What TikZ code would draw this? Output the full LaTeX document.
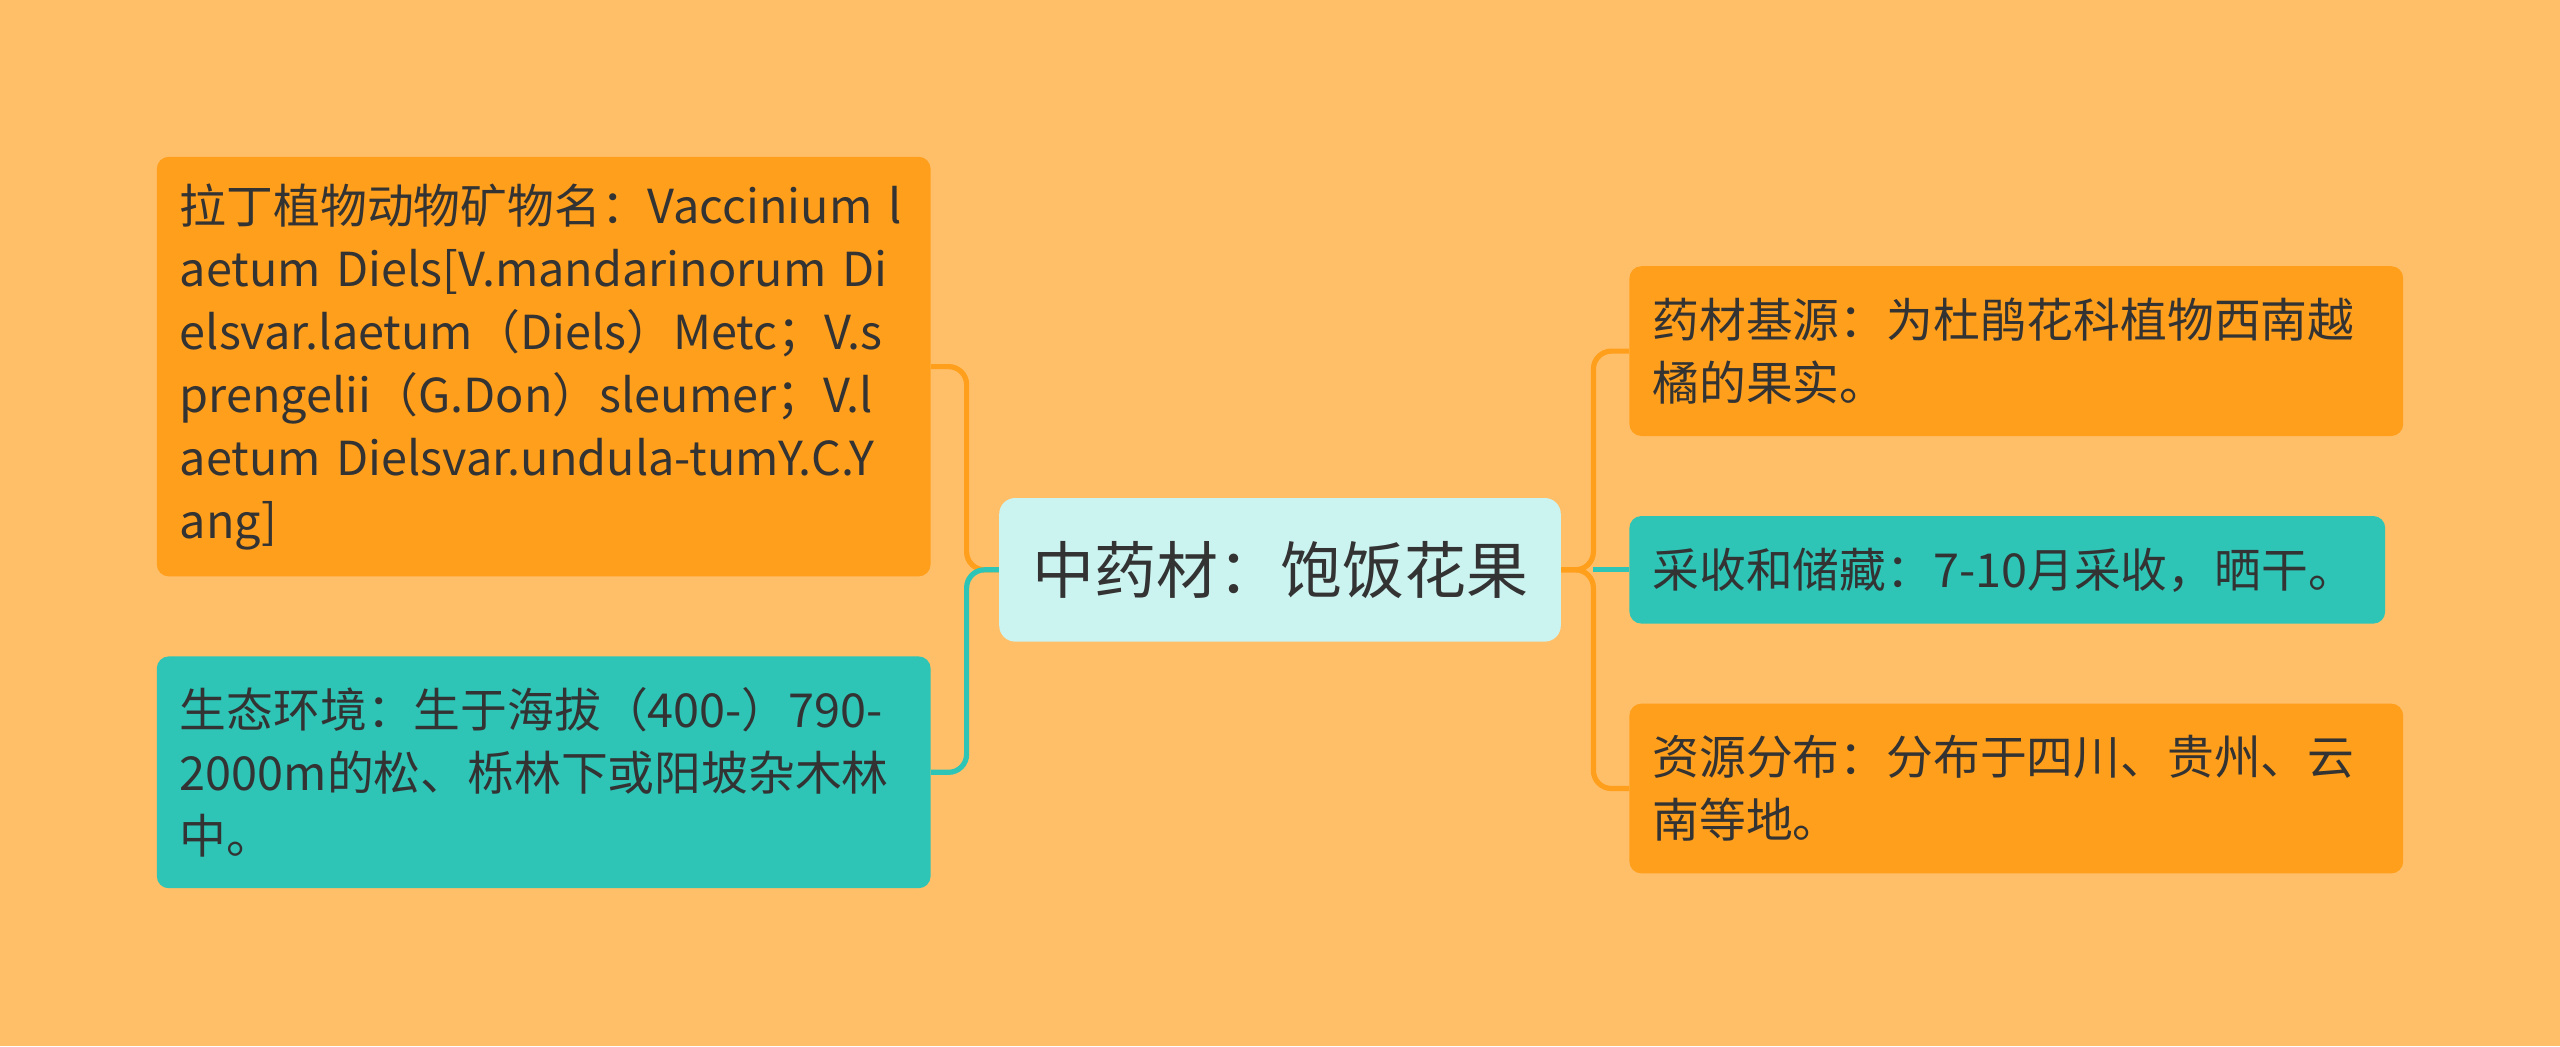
\documentclass[tikz,border=0pt]{standalone}
\usepackage{fontspec}
\setmainfont{Noto Sans CJK SC}
\definecolor{bgc}{HTML}{FFBF69}
\definecolor{orangebox}{HTML}{FF9F1C}
\definecolor{tealbox}{HTML}{2EC4B6}
\definecolor{cyanbox}{HTML}{CBF3F0}
\definecolor{txt}{HTML}{333333}
\begin{document}
\begin{tikzpicture}[x=1pt,y=-1pt,
  leaf/.style={rounded corners=6pt, inner xsep=11.5pt, inner ysep=0pt, align=left,
    text=txt, font=\fontsize{23.4pt}{31.5pt}\selectfont, anchor=center},
  obox/.style={leaf, fill=orangebox},
  tbox/.style={leaf, fill=tealbox},
  cbox/.style={rounded corners=8pt, fill=cyanbox, text=txt, inner sep=0pt,
    font=\fontsize{31pt}{36pt}\selectfont},
  oline/.style={draw=orangebox, line width=2.6pt, rounded corners=9pt},
  tline/.style={draw=tealbox, line width=2.6pt, rounded corners=9pt}]
\fill[bgc] (0,0) rectangle (1280,523);
\useasboundingbox (0,0) rectangle (1280,523);

\node[cbox, minimum width=280.8pt, minimum height=71.8pt] (c) at (640,284.9) {中药材：饱饭花果};

\node[obox, minimum width=386.9pt, minimum height=209.8pt, text width=363.9pt] (b1) at (271.85,183.3)
  {拉丁植物动物矿物名：Vaccinium l\\aetum Diels[V.mandarinorum Di\\elsvar.laetum（Diels）Metc；V.s\\prengelii（G.Don）sleumer；V.l\\aetum Dielsvar.undula-tumY.C.Y\\ang]};
\node[tbox, minimum width=386.9pt, minimum height=115.9pt, text width=363.9pt] (b2) at (271.85,386.15)
  {生态环境：生于海拔（400-）790-\\2000m的松、栎林下或阳坡杂木林\\中。};

\node[obox, minimum width=386.9pt, minimum height=84.9pt, text width=363.9pt] (r1) at (1008.15,175.55)
  {药材基源：为杜鹃花科植物西南越\\橘的果实。};
\node[tbox, minimum width=377.9pt, minimum height=53.8pt, text width=354.9pt] (r2) at (1003.65,284.9)
  {采收和储藏：7-10月采收，晒干。};
\node[obox, minimum width=386.9pt, minimum height=84.9pt, text width=363.9pt] (r3) at (1008.15,394.25)
  {资源分布：分布于四川、贵州、云\\南等地。};

\coordinate (jl) at (483.3,284.9);
\coordinate (jr) at (796.7,284.9);

\draw[oline] (c.west) -- (jl) -- (jl |- b1.east) -- (b1.east);
\draw[tline] (c.west) -- (jl) -- (jl |- b2.east) -- (b2.east);
\draw[tline] (jr) -- (r2.west);
\draw[oline] (c.east) -- (jr) -- (jr |- r1.west) -- (r1.west);
\draw[oline] (c.east) -- (jr) -- (jr |- r3.west) -- (r3.west);
\end{tikzpicture}
\end{document}
